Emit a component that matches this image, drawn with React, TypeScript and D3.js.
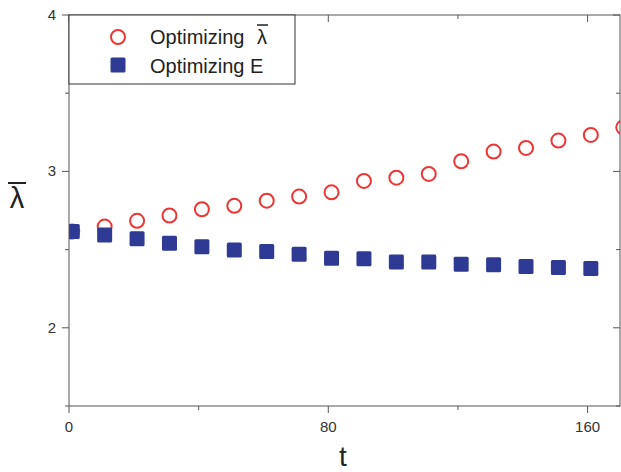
import React from "react";
import * as d3 from "d3";

const tRed = [1, 11, 21, 31, 41, 51, 61, 71, 81, 91, 101, 111, 121, 131, 141, 151, 161, 171];
const lambdaOpt = [2.615, 2.647, 2.684, 2.718, 2.758, 2.780, 2.813, 2.839, 2.866, 2.939, 2.960, 2.984, 3.065, 3.127, 3.150, 3.197, 3.233, 3.282];
const tBlue = [1, 11, 21, 31, 41, 51, 61, 71, 81, 91, 101, 111, 121, 131, 141, 151, 161];
const energyOpt = [2.615, 2.594, 2.569, 2.541, 2.518, 2.498, 2.488, 2.471, 2.445, 2.441, 2.420, 2.420, 2.407, 2.403, 2.392, 2.385, 2.379];
const xMajor = [0, 80, 160];
const xMinor = [40, 120];
const yMajor = [2, 3, 4];
const yMinor = [1.5, 2.5, 3.5];
const legendLabels = ["Optimizing", "Optimizing E"];

const W = 621, H = 472;
const L = 69, R = 620, T = 15, B = 406;
const AXIS = "#555";
const RED = "#ee3535";
const BLUE = "#2e3a94";
const FONT = "'Liberation Sans', Arial, Helvetica, sans-serif";

export default function App() {
  const x = d3.scaleLinear().domain([0, 170]).range([L, R]);
  const y = d3.scaleLinear().domain([1.5, 4]).range([B, T]);
  const sq = 15;
  return (
    <div style={{ position: "fixed", left: 0, top: 0 }}>
      <svg width={W} height={H} style={{ display: "block", background: "#fff" }}>
        <defs>
          <clipPath id="plot">
            <rect x={L} y={T} width={R - L} height={B - T} />
          </clipPath>
        </defs>
        <g clipPath="url(#plot)">
          {tRed.map((t, i) => (
            <circle key={"r" + i} cx={x(t)} cy={y(lambdaOpt[i])} r={7} fill="none" stroke={RED} strokeWidth={2} />
          ))}
          {tBlue.map((t, i) => (
            <rect key={"b" + i} x={x(t) - sq / 2} y={y(energyOpt[i]) - sq / 2} width={sq} height={sq} rx={1.5} fill={BLUE} />
          ))}
        </g>
        <rect x={L} y={T} width={R - L} height={B - T} fill="none" stroke={AXIS} strokeWidth={1} />
        {xMajor.map((v) => (
          <g key={"xM" + v}>
            <line x1={x(v)} x2={x(v)} y1={B} y2={B + 7} stroke={AXIS} />
            <line x1={x(v)} x2={x(v)} y1={T} y2={T + 7} stroke={AXIS} />
            <text x={x(v)} y={432} textAnchor="middle" fontFamily={FONT} fontSize={15} fill="#333">{v}</text>
          </g>
        ))}
        {xMinor.map((v) => (
          <g key={"xm" + v}>
            <line x1={x(v)} x2={x(v)} y1={B} y2={B + 4} stroke={AXIS} />
            <line x1={x(v)} x2={x(v)} y1={T} y2={T + 4} stroke={AXIS} />
          </g>
        ))}
        {yMajor.map((v) => (
          <g key={"yM" + v}>
            <line x1={L - 7} x2={L} y1={y(v)} y2={y(v)} stroke={AXIS} />
            <line x1={R - 7} x2={R} y1={y(v)} y2={y(v)} stroke={AXIS} />
            <text x={56} y={y(v) + 5} textAnchor="end" fontFamily={FONT} fontSize={15} fill="#333">{v}</text>
          </g>
        ))}
        {yMinor.map((v) => (
          <g key={"ym" + v}>
            <line x1={L - 4} x2={L} y1={y(v)} y2={y(v)} stroke={AXIS} />
            <line x1={R - 4} x2={R} y1={y(v)} y2={y(v)} stroke={AXIS} />
          </g>
        ))}
        <text x={343} y={466} textAnchor="middle" fontFamily={FONT} fontSize={28} fill="#222">t</text>
        <text x={17} y={208} textAnchor="middle" fontFamily={FONT} fontSize={29} fill="#222">λ</text>
        <line x1={8} x2={26} y1={183} y2={183} stroke="#222" strokeWidth={2} />
        <rect x={L} y={T} width={226} height={69} fill="#fff" stroke="#333" strokeWidth={1} />
        <circle cx={118} cy={37} r={7} fill="none" stroke={RED} strokeWidth={2} />
        <text x={150} y={44} fontFamily={FONT} fontSize={20} fill="#222">
          {legendLabels[0]}<tspan x={257}>λ</tspan>
        </text>
        <line x1={257} x2={268} y1={25} y2={25} stroke="#222" strokeWidth={1.5} />
        <rect x={118 - 7.5} y={65 - 7.5} width={15} height={15} rx={1.5} fill={BLUE} />
        <text x={150} y={73} fontFamily={FONT} fontSize={20} fill="#222">{legendLabels[1]}</text>
      </svg>
    </div>
  );
}
